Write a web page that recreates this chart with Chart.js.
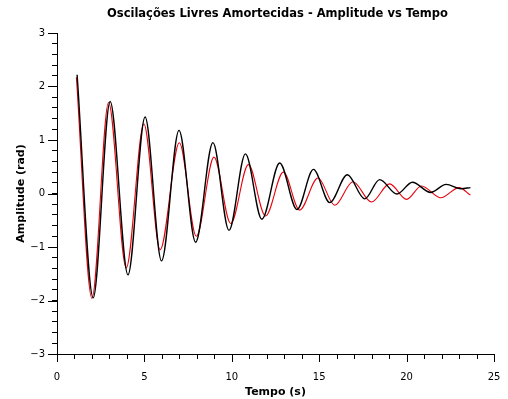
<!DOCTYPE html>
<html>
<head>
<meta charset="utf-8">
<script src="https://cdn.jsdelivr.net/npm/chart.js@4.4.1/dist/chart.umd.min.js"></script>
<style>
  html, body { margin: 0; padding: 0; background: #fff; }
  #wrap { width: 508px; height: 399px; }
</style>
</head>
<body>
<div id="wrap"><canvas id="chart" width="508" height="399"></canvas></div>
<script>
const tempoPreto = [1.15, 2.07, 3.04, 4.06, 5.04, 5.98, 6.98, 7.93, 8.92, 9.84, 10.78, 11.72,
    12.74, 13.73, 14.67, 15.6, 16.61, 17.6, 18.46, 19.45, 20.33, 21.38, 22.26, 23.12, 23.65];
const amplitudePreto = [2.22, -1.95, 1.72, -1.52, 1.43, -1.26, 1.18, -0.91, 0.95, -0.69, 0.74, -0.48,
    0.57, -0.30, 0.45, -0.17, 0.35, -0.10, 0.26, -0.01, 0.21, 0.02, 0.17, 0.09, 0.11];

// Curva vermelha
const tempoVermelho = [1.11, 2.0, 2.95, 3.96, 4.97, 5.9, 7.0, 7.97, 8.98, 9.94, 10.95, 11.93,
    12.95, 13.88, 14.93, 15.89, 16.93, 17.99, 19.03, 20.0, 20.85, 21.96, 23.0, 23.65];
const amplitudeVermelho = [2.17, -1.96, 1.70, -1.39, 1.30, -1.05, 0.95, -0.80, 0.68, -0.56, 0.54, -0.42,
    0.40, -0.31, 0.29, -0.22, 0.22, -0.16, 0.18, -0.11, 0.14, -0.08, 0.11, -0.03];

// Eixos
const xMin = 0, xMax = 25, xMajor = 5, xMinor = 1;
const yMin = -3, yMax = 3, yMajor = 1, yMinor = 0.2;

const TITULO = 'Oscilações Livres Amortecidas - Amplitude vs Tempo';
const FONT = '"DejaVu Sans", Verdana, sans-serif';

function toPoints(xs, ys) {
    return xs.map((x, i) => ({ x: x, y: ys[i] }));
}

function isMultiple(v, step) {
    return Math.abs(v / step - Math.round(v / step)) < 1e-6;
}

function formatTick(v) {
    const n = Math.round(v);
    return n < 0 ? '\u2212' + Math.abs(n) : String(n);
}

// título centrado sobre a área do gráfico + traços dos eixos (menores e principais)
const decor = {
    id: 'decor',
    afterDraw(chart) {
        const ctx = chart.ctx;
        const area = chart.chartArea;
        const sx = chart.scales.x, sy = chart.scales.y;
        ctx.save();
        ctx.fillStyle = '#000';
        ctx.font = 'bold 11.5px ' + FONT;
        ctx.textAlign = 'center';
        ctx.textBaseline = 'middle';
        ctx.fillText(TITULO, (area.left + area.right) / 2 + 2, 14);

        ctx.strokeStyle = '#000';
        ctx.lineWidth = 1;
        ctx.beginPath();
        sx.ticks.forEach(t => {
            const px = Math.round(sx.getPixelForValue(t.value)) + 0.5;
            ctx.moveTo(px, area.bottom);
            ctx.lineTo(px, area.bottom + (isMultiple(t.value, xMajor) ? 8 : 5));
        });
        sy.ticks.forEach(t => {
            if (!isMultiple(t.value, yMajor)) return;
            const py = Math.round(sy.getPixelForValue(t.value)) + 0.5;
            ctx.moveTo(area.left, py);
            ctx.lineTo(area.left - 9, py);
        });
        ctx.stroke();
        ctx.restore();
    }
};

new Chart(document.getElementById('chart').getContext('2d'), {
    type: 'line',
    data: {
        datasets: [
            {
                label: 'Preto',
                data: toPoints(tempoPreto, amplitudePreto),
                borderColor: '#000000',
                borderWidth: 1.4,
                pointRadius: 0,
                cubicInterpolationMode: 'monotone',
                fill: false
            },
            {
                label: 'Vermelho',
                data: toPoints(tempoVermelho, amplitudeVermelho),
                borderColor: '#e8000b',
                borderWidth: 1.1,
                pointRadius: 0,
                cubicInterpolationMode: 'monotone',
                fill: false
            }
        ]
    },
    options: {
        responsive: false,
        animation: false,
        layout: { padding: { top: 33, right: 14 } },
        plugins: {
            legend: { display: false },
            tooltip: { enabled: false },
            title: { display: false }
        },
        scales: {
            x: {
                type: 'linear',
                min: xMin,
                max: xMax,
                afterFit(scale) { scale.height = 45; },
                border: { display: true, color: '#000', width: 1 },
                grid: { drawOnChartArea: false, drawTicks: true, tickLength: 12, color: 'rgba(0,0,0,0)' },
                ticks: {
                    stepSize: xMinor,
                    autoSkip: false,
                    maxRotation: 0,
                    padding: 5,
                    color: '#000',
                    font: { family: FONT, size: 10 },
                    callback: v => isMultiple(v, xMajor) ? formatTick(v) : ''
                },
                title: {
                    display: true,
                    text: 'Tempo (s)',
                    color: '#000',
                    font: { family: FONT, size: 11, weight: 'bold' },
                    padding: { top: 0, bottom: 0 }
                }
            },
            y: {
                min: yMin,
                max: yMax,
                afterFit(scale) { scale.width = 57; },
                border: { display: true, color: '#000', width: 1 },
                grid: { drawOnChartArea: false, drawTicks: true, tickLength: 5, color: '#000' },
                ticks: {
                    stepSize: yMinor,
                    autoSkip: false,
                    padding: 7,
                    color: '#000',
                    font: { family: FONT, size: 10 },
                    callback: v => isMultiple(v, yMajor) ? formatTick(v) : ''
                },
                title: {
                    display: true,
                    text: 'Amplitude (rad)',
                    color: '#000',
                    font: { family: FONT, size: 11, weight: 'bold' },
                    padding: { top: 15, bottom: 0 }
                }
            }
        }
    },
    plugins: [decor]
});
</script>
</body>
</html>
